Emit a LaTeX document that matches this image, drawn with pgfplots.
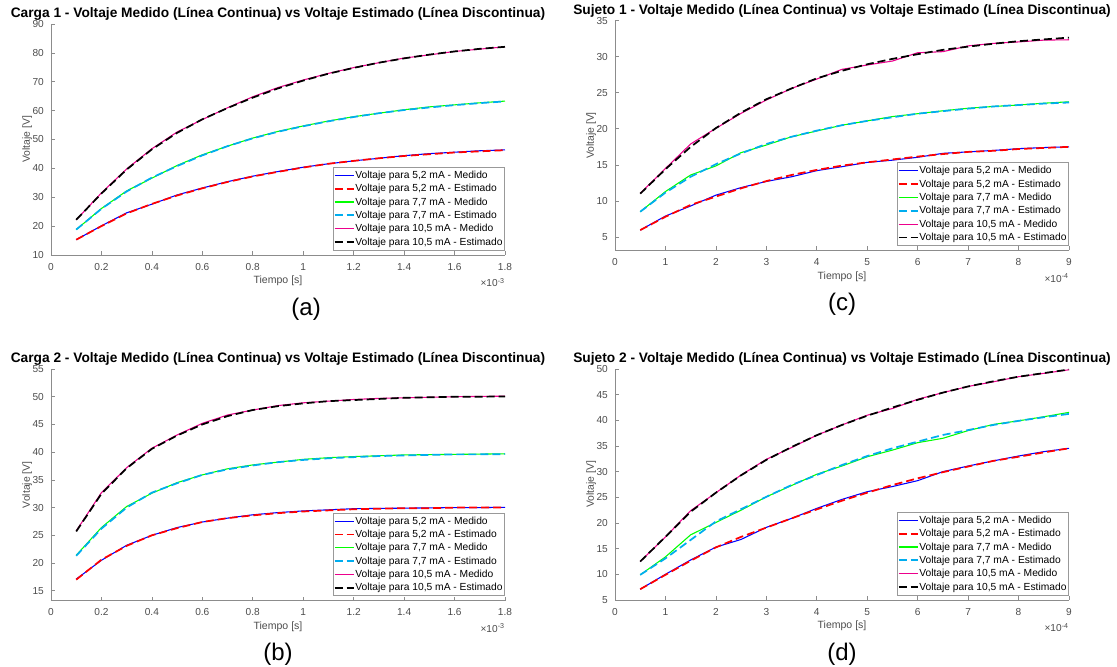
\documentclass[border=0pt]{standalone}
\usepackage{fontspec}
\setmainfont{Liberation Sans}
\usepackage{pgfplots}
\pgfplotsset{compat=1.18}
\usepackage{pgfplotstable}

\definecolor{axgray}{gray}{0.55}
\definecolor{txgray}{gray}{0.30}

% t (x1e-3 s for Carga, x1e-4 s for Sujeto), medido/estimado per current
\pgfplotstableread{
t   m52   e52   m77   e77   m105  e105
0.1 15.3  15.3  18.8  18.8  22.2  22.2
0.2 20.1  20.0  26.1  26.0  31.5  31.3
0.3 24.6  24.4  32.2  32.0  39.8  39.6
0.4 27.6  27.7  36.6  36.8  46.8  46.6
0.5 30.8  30.6  41.0  40.8  52.6  52.3
0.6 33.2  33.1  44.7  44.5  56.9  57.0
0.7 35.4  35.3  47.7  47.7  61.0  60.9
0.8 37.3  37.2  50.5  50.4  64.8  64.5
0.9 38.9  38.8  52.8  52.7  68.0  67.7
1.0 40.4  40.3  54.7  54.6  70.6  70.4
1.1 41.6  41.6  56.4  56.3  72.9  72.8
1.2 42.6  42.6  57.9  57.8  74.9  74.8
1.3 43.5  43.5  59.1  59.1  76.6  76.6
1.4 44.4  44.3  60.3  60.2  78.2  78.1
1.5 45.1  44.9  61.3  61.1  79.3  79.4
1.6 45.6  45.5  62.0  61.9  80.5  80.5
1.7 46.1  45.9  62.7  62.6  81.3  81.4
1.8 46.4  46.3  63.3  63.2  82.1  82.1
}\cargaA

\pgfplotstableread{
t   m52   e52   m77   e77   m105  e105
0.1 17.1  17.0  21.4  21.3  25.8  25.7
0.2 20.5  20.6  26.4  26.2  32.7  32.5
0.3 23.2  23.1  30.2  30.0  37.2  37.1
0.4 25.0  25.0  32.6  32.7  40.7  40.6
0.5 26.4  26.3  34.5  34.4  43.1  43.0
0.6 27.4  27.4  35.9  35.9  45.2  45.0
0.7 28.1  28.1  37.0  36.9  46.7  46.5
0.8 28.7  28.6  37.7  37.6  47.6  47.6
0.9 29.1  29.0  38.2  38.2  48.4  48.3
1.0 29.4  29.3  38.7  38.6  48.9  48.8
1.1 29.6  29.5  39.0  38.9  49.2  49.2
1.2 29.8  29.7  39.2  39.1  49.5  49.4
1.3 29.85 29.8  39.35 39.3  49.7  49.6
1.4 29.9  29.9  39.5  39.4  49.8  49.8
1.5 29.95 29.9  39.55 39.5  49.9  49.9
1.6 30.0  30.0  39.6  39.6  50.0  50.0
1.7 30.0  30.0  39.65 39.6  50.05 50.0
1.8 30.05 30.0  39.7  39.65 50.1  50.05
}\cargaB

\pgfplotstableread{
t   m52   e52   m77   e77   m105  e105
0.5 5.95  5.95  8.5   8.5   11.05 11.0
1.0 7.9   7.8   11.3  11.15 14.5  14.4
1.5 9.3   9.45  13.6  13.35 17.9  17.5
2.0 10.8  10.6  14.85 15.1  20.07 20.1
2.5 11.85 11.75 16.7  16.6  22.15 22.25
3.0 12.7  12.75 17.75 17.9  24.0  24.1
3.5 13.35 13.6  18.9  18.9  25.6  25.6
4.0 14.2  14.3  19.7  19.75 26.9  27.0
4.5 14.75 14.9  20.5  20.5  28.25 28.05
5.0 15.35 15.35 21.1  21.1  28.85 28.95
5.5 15.65 15.75 21.7  21.6  29.4  29.7
6.0 16.05 16.15 22.1  22.1  30.55 30.35
6.5 16.6  16.5  22.5  22.45 30.7  30.95
7.0 16.8  16.8  22.85 22.8  31.5  31.4
7.5 17.0  16.95 23.1  23.1  31.85 31.8
8.0 17.25 17.2  23.3  23.3  32.05 32.15
8.5 17.4  17.35 23.55 23.5  32.3  32.4
9.0 17.5  17.5  23.75 23.65 32.35 32.65
}\sujetoA

\pgfplotstableread{
t   m52   e52   m77   e77   m105  e105
0.5 7.1   7.1   9.9   9.9   12.5  12.5
1.0 10.0  9.9   13.4  13.1  17.3  17.3
1.5 12.8  12.65 17.7  16.7  22.4  22.2
2.0 15.3  15.25 20.1  20.3  25.9  25.9
2.5 16.8  17.3  22.5  22.7  29.35 29.3
3.0 19.15 19.1  25.1  25.1  32.4  32.3
3.5 20.9  20.9  27.3  27.4  34.7  34.8
4.0 22.85 22.65 29.5  29.35 37.1  37.1
4.5 24.6  24.35 31.1  31.3  39.1  39.1
5.0 26.1  25.9  32.9  33.05 41.0  40.9
5.5 27.1  27.4  34.2  34.55 42.3  42.5
6.0 28.25 28.7  35.65 35.85 44.1  44.0
6.5 30.0  29.9  36.5  37.15 45.4  45.4
7.0 31.1  31.0  38.0  38.1  46.6  46.6
7.5 32.1  32.1  39.2  39.1  47.5  47.6
8.0 33.05 32.9  39.9  39.9  48.5  48.5
8.5 33.9  33.75 40.7  40.6  49.15 49.2
9.0 34.55 34.55 41.55 41.25 49.85 49.9
}\sujetoB

\pgfplotsset{
  panel/.style={
    scale only axis,
    width=340.5pt,
    axis lines=left,
    axis line style={-, draw=axgray, line width=0.5pt},
    tick align=inside,
    major tick length=3pt,
    tick style={draw=axgray, line width=0.5pt},
    ticklabel style={font=\fontsize{7.6}{8.5}\selectfont, text=txgray, inner sep=0pt},
    xticklabel style={anchor=base, yshift=-11.3pt},
    yticklabel style={anchor=east, xshift=-5.2pt},
    /pgf/number format/assume math mode=true,
    scaled ticks=false,
    clip=false,
    every axis title shift=0pt,
    title style={at={(axis description cs:0.5,1)}, anchor=base, yshift=4.7pt,
      font=\fontsize{10.3}{12}\selectfont\bfseries},
    xlabel style={at={(axis description cs:0.5,0)}, anchor=center, yshift=-19.5pt,
      font=\fontsize{7.9}{9}\selectfont, text=txgray},
    ylabel style={at={(axis description cs:-0.0525,0.5)}, anchor=center,
      font=\fontsize{7.8}{9}\selectfont, text=txgray},
    xlabel={Tiempo [s]},
    ylabel={Voltaje [V]},
    legend cell align=left,
    legend style={at={(1,0)}, anchor=south east, xshift=-0.75pt, yshift=3.75pt,
      outer sep=0pt,
      font=\fontsize{7.7}{8.5}\selectfont, draw=gray!80, line width=0.5pt,
      inner xsep=0.5pt, inner ysep=1pt, row sep=0pt,
      nodes={inner sep=0.6pt, text height=6.7pt, text depth=2.1pt}},
    legend image code/.code={\draw[#1] (-0.6pt,0pt) -- (13.6pt,0pt);},
  },
  med/.style={line width=0.8pt},
  est/.style={line width=1.3pt, dash pattern=on 6pt off 3pt},
}

\newcommand{\series}[1]{%
  \addplot[med, blue] table[x=t, y=m52] {#1};
  \addlegendentry{Voltaje para 5,2 mA - Medido}
  \addplot[est, red] table[x=t, y=e52] {#1};
  \addlegendentry{Voltaje para 5,2 mA - Estimado}
  \addplot[med, green] table[x=t, y=m77] {#1};
  \addlegendentry{Voltaje para 7,7 mA - Medido}
  \addplot[est, cyan] table[x=t, y=e77] {#1};
  \addlegendentry{Voltaje para 7,7 mA - Estimado}
  \addplot[med, magenta] table[x=t, y=m105] {#1};
  \addlegendentry{Voltaje para 10,5 mA - Medido}
  \addplot[est, black] table[x=t, y=e105] {#1};
  \addlegendentry{Voltaje para 10,5 mA - Estimado}
}

\newcommand{\subcap}[2]{%
  \node[font=\fontsize{18}{21}\selectfont, anchor=center] at (rel axis cs:#1,0) [yshift=-40.5pt] {#2};}
\newcommand{\expo}[1]{%
  \node[font=\fontsize{7.6}{8.5}\selectfont, text=txgray, anchor=base east, inner sep=0pt]
    at (rel axis cs:1,0) [yshift=-24pt] {×10\textsuperscript{#1}};}

\begin{document}
\begin{tikzpicture}
\useasboundingbox (0,0) rectangle (837.75pt,500.25pt);

% (a)
\begin{axis}[panel, at={(38.25pt,309pt)}, anchor=south west, height=173.25pt,
  title={Carga 1 - Voltaje Medido (Línea Continua) vs Voltaje Estimado (Línea Discontinua)},
  xmin=0, xmax=1.8, ymin=10, ymax=90,
  xtick={0,0.2,0.4,0.6,0.8,1,1.2,1.4,1.6,1.8},
  xticklabels={0,0.2,0.4,0.6,0.8,1,1.2,1.4,1.6,1.8},
  ytick={10,20,...,90}]
\series{\cargaA}
\expo{-3}
\subcap{0.562}{(a)}
\end{axis}

% (b)
\begin{axis}[panel, at={(38.25pt,49.7pt)}, anchor=south west, height=173.8pt,
  title={Carga 2 - Voltaje Medido (Línea Continua) vs Voltaje Estimado (Línea Discontinua)},
  xmin=0, xmax=1.8, ymin=13.2, ymax=55,
  xtick={0,0.2,0.4,0.6,0.8,1,1.2,1.4,1.6,1.8},
  xticklabels={0,0.2,0.4,0.6,0.8,1,1.2,1.4,1.6,1.8},
  ytick={15,20,...,55}]
\series{\cargaB}
\expo{-3}
\subcap{0.5}{(b)}
\end{axis}

% (c)
\begin{axis}[panel, at={(461.25pt,312.4pt)}, anchor=south west, height=172.35pt,
  title={Sujeto 1 - Voltaje Medido (Línea Continua) vs Voltaje Estimado (Línea Discontinua)},
  xmin=0, xmax=9, ymin=3.13, ymax=35,
  xtick={0,1,...,9},
  ytick={5,10,...,35}]
\series{\sujetoA}
\expo{-4}
\subcap{0.5}{(c)}
\end{axis}

% (d)
\begin{axis}[panel, at={(461.25pt,50.25pt)}, anchor=south west, height=173.25pt,
  title={Sujeto 2 - Voltaje Medido (Línea Continua) vs Voltaje Estimado (Línea Discontinua)},
  xmin=0, xmax=9, ymin=5, ymax=50,
  xtick={0,1,...,9},
  ytick={5,10,...,50}]
\series{\sujetoB}
\expo{-4}
\subcap{0.5}{(d)}
\end{axis}
\end{tikzpicture}
\end{document}
